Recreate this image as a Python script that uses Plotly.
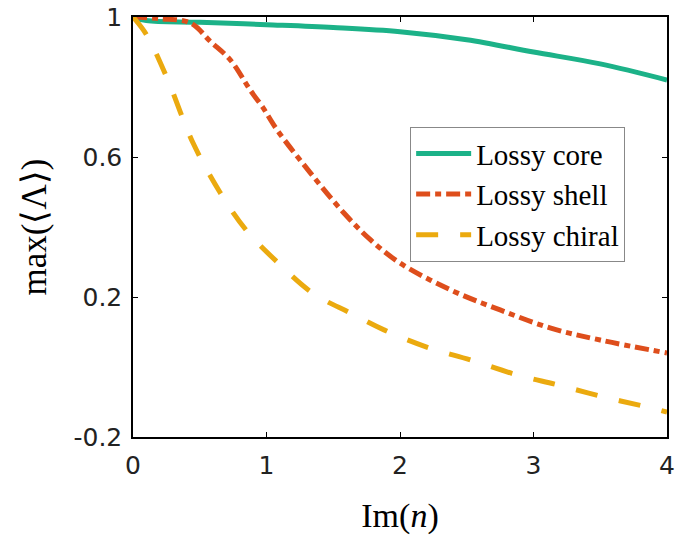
import plotly.graph_objects as go

# Data
core_x = [0, 0.1, 0.5, 1.0, 1.5, 2.0, 2.5, 3.0, 3.5, 4.0]
core_y = [1.0, 0.99, 0.985, 0.978, 0.97, 0.958, 0.935, 0.90, 0.866, 0.82]

shell_x = [0, 0.2, 0.43, 0.58, 0.73, 0.88, 0.97, 1.08, 1.33, 1.58, 1.78, 2.0, 2.38, 2.75, 3.13, 3.5, 4.0]
shell_y = [1.0, 0.995, 0.983, 0.93, 0.877, 0.79, 0.743, 0.677, 0.554, 0.44, 0.363, 0.297, 0.22, 0.163, 0.111, 0.077, 0.04]

chiral_x = [0, 0.1, 0.25, 0.45, 0.65, 0.85, 1.08, 1.35, 1.63, 1.88, 2.2, 2.53, 2.88, 3.18, 3.53, 3.88, 4.0]
chiral_y = [1.0, 0.95, 0.83, 0.64, 0.5, 0.39, 0.3, 0.21, 0.154, 0.106, 0.057, 0.02, -0.023, -0.051, -0.086, -0.117, -0.129]

names = ["Lossy core", "Lossy shell", "Lossy chiral"]
x_ticks = [0, 1, 2, 3, 4]
y_ticks = [-0.2, 0.2, 0.6, 1.0]
y_tick_text = ["-0.2", "0.2", "0.6", "1"]

fig = go.Figure()
fig.add_trace(go.Scatter(x=core_x, y=core_y, mode="lines", name=names[0],
                         line=dict(color="rgb(28,178,136)", width=5, shape="spline")))
fig.add_trace(go.Scatter(x=shell_x, y=shell_y, mode="lines", name=names[1],
                         line=dict(color="rgb(222,78,28)", width=5, shape="spline",
                                   dash="14px,5px,6px,5px")))
fig.add_trace(go.Scatter(x=chiral_x, y=chiral_y, mode="lines", name=names[2],
                         line=dict(color="rgb(235,170,15)", width=5, shape="spline",
                                   dash="22px,22px")))

axis_common = dict(showgrid=False, zeroline=False, showline=True, linecolor="black",
                   linewidth=1.5, mirror="ticks", ticks="inside", ticklen=5,
                   tickcolor="black", tickwidth=1, automargin=False,
                   tickfont=dict(family="DejaVu Sans", size=25, color="#222"))

fig.update_xaxes(range=[0, 4], tickvals=x_ticks, ticklabelstandoff=5,
                 title=dict(text="Im(<i>n</i>)", font=dict(family="Liberation Serif", size=34, color="black"),
                            standoff=24),
                 **axis_common)
fig.update_yaxes(range=[-0.2, 1.0], tickvals=y_ticks, ticktext=y_tick_text, ticklabelstandoff=4,
                 title=dict(text="max(⟨Λ⟩)", font=dict(family="Liberation Serif", size=35, color="black"),
                            standoff=16),
                 **axis_common)

fig.update_layout(
    width=676, height=535,
    margin=dict(l=133, r=9, t=17, b=98),
    plot_bgcolor="white", paper_bgcolor="white",
    legend=dict(x=0.519, y=0.738, xanchor="left", yanchor="top",
                font=dict(family="Liberation Serif", size=29, color="black"),
                bordercolor="#888", borderwidth=1, bgcolor="white",
                itemwidth=55, tracegroupgap=0),
)

fig.write_html("out.html")
